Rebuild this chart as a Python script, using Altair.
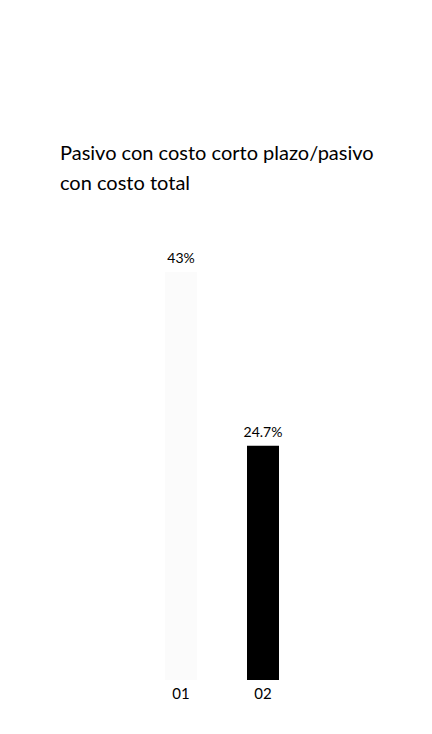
import altair as alt
import pandas as pd

years = ["01", "02"]
values = [43.0, 24.7]
labels = ["43%", "24.7%"]
colors = ["#fbfbfb", "#000000"]

df = pd.DataFrame({"year": years, "value": values, "label": labels, "color": colors})

x = alt.X("year:N", scale=alt.Scale(domain=years, paddingInner=0, paddingOuter=0),
          axis=alt.Axis(title=None, labelAngle=0, domain=False, ticks=False,
                        labelFont="Lato", labelFontSize=15, labelColor="#000",
                        labelPadding=6, grid=False))
y = alt.Y("value:Q", scale=alt.Scale(domain=[0, 50.6], nice=False), axis=None)

bars = alt.Chart(df).mark_bar(size=32).encode(
    x=x, y=y, color=alt.Color("color:N", scale=None)
)
text = alt.Chart(df).mark_text(dy=-13, font="Lato", fontSize=14, color="#000").encode(
    x=x, y=y, text="label:N"
)

chart = alt.layer(bars, text).properties(
    width=164, height=480,
    background="white",
    autosize=alt.AutoSizeParams(type="none"),
    padding={"left": 132, "top": 192, "right": 120, "bottom": 46},
    title=alt.Title(["Pasivo con costo corto plazo/pasivo", "con costo total"],
                    anchor="start", frame="group", dx=-80, offset=6,
                    font="Lato", fontSize=20, fontWeight="normal",
                    lineHeight=30, color="#000")
).configure_view(strokeWidth=0)

chart.save("out.html", embed_options={"renderer": "svg", "actions": False})
